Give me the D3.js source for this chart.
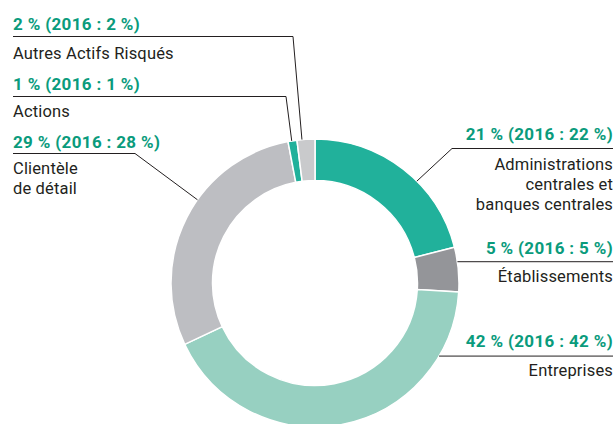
<!DOCTYPE html>
<html>
<head>
<meta charset="utf-8">
<script src="https://cdn.jsdelivr.net/npm/d3@7"></script>
<style>
  body { margin: 0; background: #fff; }
  svg { display: block; }
</style>
</head>
<body>
<svg id="donut"></svg>
<script>
// Data, clockwise from 12 o'clock
const categories = [
  ["Administrations", "centrales et", "banques centrales"],
  ["Établissements"],
  ["Entreprises"],
  ["Clientèle", "de détail"],
  ["Actions"],
  ["Autres Actifs Risqués"]
];
const values2017 = [21, 5, 42, 29, 1, 2];
const values2016 = [22, 5, 42, 28, 1, 2];
const sliceColors = ["#21b19b", "#949599", "#97d0c1", "#bdbec2", "#21b19b", "#c9cacc"];

// Label layout: side, baseline of value line, leader line y, bend x, anchor angle (deg)
const labelLayout = [
  { side: "right", valueY: 139.5, lineY: 148.5, bendX: 452, angle: 45, nameY: 170 },
  { side: "right", valueY: 253.5, lineY: null, bendX: null, angle: 81.5, nameY: 282 },
  { side: "right", valueY: 347, lineY: null, bendX: null, angle: 120.5, nameY: 375.5 },
  { side: "left", valueY: 148, lineY: 153.5, bendX: 135, angle: 305.3, nameY: 173.5 },
  { side: "left", valueY: 89.5, lineY: 96.5, bendX: 286, angle: 350.7, nameY: 117 },
  { side: "left", valueY: 29.5, lineY: 36.5, bendX: 293, angle: 354.8, nameY: 58.5 }
];

const width = 616, height = 424;
const cx = 315, cy = 283;
const outerR = 144, innerR = 102.5;
const leftX = 13, rightX = 613;
const green = "#0a9b7c", ink = "#231f20";
const font = "Roboto, 'Open Sans', sans-serif";

const svg = d3.select("#donut")
  .attr("width", width)
  .attr("height", height)
  .style("font-family", font);

const data = values2017.map((v, i) => ({ i, value: v, prev: values2016[i], name: categories[i] }));

const pie = d3.pie().value(d => d.value).sort(null);
const arc = d3.arc().innerRadius(innerR).outerRadius(outerR);

const g = svg.append("g").attr("transform", `translate(${cx},${cy})`);

g.selectAll("path.slice")
  .data(pie(data))
  .join("path")
  .attr("class", "slice")
  .attr("d", arc)
  .attr("fill", d => sliceColors[d.data.i])
  .attr("stroke", "#fff")
  .attr("stroke-width", 1.5);

// Leader lines
data.forEach((d, i) => {
  const L = labelLayout[i];
  const p = d3.pointRadial(L.angle * Math.PI / 180, outerR);
  const ax = cx + p[0], ay = cy + p[1];
  const ly = L.lineY == null ? ay : L.lineY;
  const bx = L.bendX == null ? ax : L.bendX;
  const startX = L.side === "left" ? leftX : rightX;
  svg.append("path")
    .attr("d", d3.line()([[startX, ly], [bx, ly], [ax, ay]]))
    .attr("fill", "none")
    .attr("stroke", ink)
    .attr("stroke-width", 1);
});

// Labels
data.forEach((d, i) => {
  const L = labelLayout[i];
  const x = L.side === "left" ? leftX : rightX;
  const anchor = L.side === "left" ? "start" : "end";
  svg.append("text")
    .attr("x", x)
    .attr("y", L.valueY)
    .attr("text-anchor", anchor)
    .attr("fill", green)
    .style("font-size", "17px")
    .style("font-weight", "bold")
    .style("letter-spacing", "0.35px")
    .text(`${d.value} % (2016 : ${d.prev} %)`);
  d.name.forEach((line, k) => {
    svg.append("text")
      .attr("x", x)
      .attr("y", L.nameY + k * 20)
      .attr("text-anchor", anchor)
      .attr("fill", ink)
      .style("font-size", "16.5px")
      .style("letter-spacing", "0.15px")
      .text(line);
  });
});
</script>
</body>
</html>
